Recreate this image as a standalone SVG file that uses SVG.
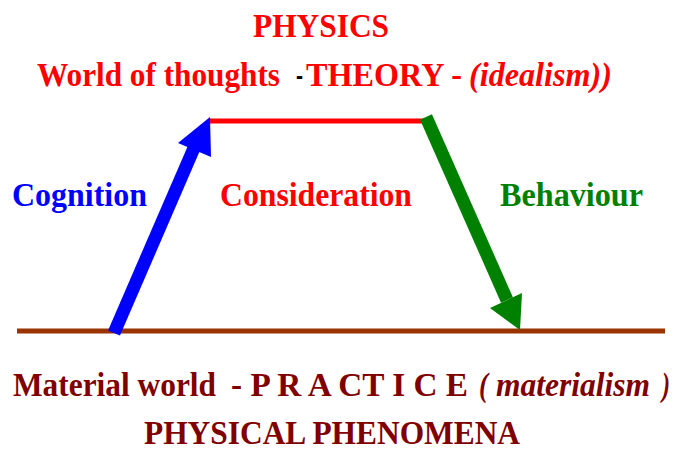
<svg xmlns="http://www.w3.org/2000/svg" width="683" height="450" viewBox="0 0 683 450" font-family="'Liberation Serif', 'Times New Roman', Times, serif">
<style>
text{font-weight:bold;font-size:34px}
.r{fill:#ff0000}.b{fill:#0000ff}.g{fill:#008000}.m{fill:#800000}.k{fill:#000}
.i{font-style:italic}
</style>
<rect width="683" height="450" fill="#fff"/>
<g id="connectors">
<line x1="17" y1="331" x2="665" y2="331" stroke="#993300" stroke-width="5"/>
<line x1="210" y1="121" x2="425" y2="121" stroke="#ff0000" stroke-width="5"/>
<g id="cognition-arrow">
<line x1="114" y1="333" x2="194" y2="148" stroke="#0000ff" stroke-width="13"/>
<polygon points="210,117 178,143 211,157" fill="#0000ff"/>
</g>
<g id="behaviour-arrow">
<line x1="426" y1="117" x2="507" y2="300" stroke="#008000" stroke-width="13"/>
<polygon points="520,330 490,308 522,293" fill="#008000"/>
</g>
</g>
<g id="top">
<text class="r" x="321" y="37" text-anchor="middle" textLength="136" lengthAdjust="spacingAndGlyphs">PHYSICS</text>
<text class="r" x="37" y="86" textLength="243" lengthAdjust="spacingAndGlyphs">World of thoughts</text>
<text class="k" x="296" y="86" textLength="7" lengthAdjust="spacingAndGlyphs">-</text>
<text class="r" x="306" y="86" textLength="156" lengthAdjust="spacingAndGlyphs">THEORY -</text>
<text class="r i" x="469" y="86" textLength="143" lengthAdjust="spacingAndGlyphs">(idealism))</text>
</g>
<g id="cognition"><text class="b" x="12" y="206" textLength="135" lengthAdjust="spacingAndGlyphs">Cognition</text></g>
<g id="consideration"><text class="r" x="220" y="206" textLength="192" lengthAdjust="spacingAndGlyphs">Consideration</text></g>
<g id="behaviour"><text class="g" x="500" y="206" textLength="143" lengthAdjust="spacingAndGlyphs">Behaviour</text></g>
<g id="bottom">
<text class="m" x="13" y="396" textLength="203" lengthAdjust="spacingAndGlyphs">Material world</text>
<text class="m" x="231" y="396" textLength="237" lengthAdjust="spacingAndGlyphs">- P R A CT I C E</text>
<text class="m i" x="479" y="396" textLength="9" lengthAdjust="spacingAndGlyphs">(</text>
<text class="m i" x="496" y="396" textLength="154" lengthAdjust="spacingAndGlyphs">materialism</text>
<text class="m i" x="662" y="396" textLength="8" lengthAdjust="spacingAndGlyphs">)</text>
<text class="m" x="144" y="444" textLength="376" lengthAdjust="spacingAndGlyphs">PHYSICAL PHENOMENA</text>
</g>
</svg>
